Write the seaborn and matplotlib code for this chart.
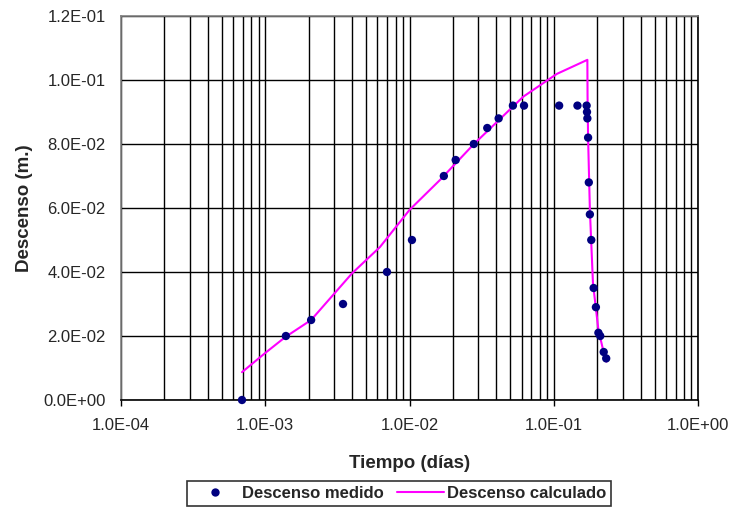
import numpy as np
import pandas as pd
import matplotlib
matplotlib.use("Agg")
import matplotlib.pyplot as plt
import matplotlib.ticker as mticker
from matplotlib.lines import Line2D
import seaborn as sns

# Descenso medido (puntos)
t_medido = [6.9e-4, 1.39e-3, 2.08e-3, 3.46e-3, 6.98e-3, 1.04e-2, 1.73e-2, 2.09e-2,
            2.79e-2, 3.46e-2, 4.15e-2, 5.21e-2, 6.22e-2, 0.109, 0.146, 0.169,
            0.170, 0.171, 0.173, 0.175, 0.178, 0.182, 0.189, 0.196, 0.204, 0.210,
            0.222, 0.231]
s_medido = [0.0, 0.020, 0.025, 0.030, 0.040, 0.050, 0.070, 0.075,
            0.080, 0.085, 0.088, 0.092, 0.092, 0.092, 0.092, 0.092,
            0.090, 0.088, 0.082, 0.068, 0.058, 0.050, 0.035, 0.029, 0.021, 0.020,
            0.015, 0.013]

# Descenso calculado (curva)
t_calc = [6.9e-4, 1.0e-3, 1.38e-3, 2.08e-3, 4.0e-3, 6.24e-3, 1.0e-2, 1.63e-2,
          2.77e-2, 6.15e-2, 0.105, 0.171, 0.1715, 0.173, 0.178, 0.187, 0.204,
          0.220, 0.232]
s_calc = [0.0087, 0.0147, 0.0197, 0.0250, 0.0396, 0.0478, 0.0594, 0.0688,
          0.0798, 0.0948, 0.1019, 0.1063, 0.0950, 0.0820, 0.0594, 0.0365, 0.0219,
          0.0156, 0.0120]

x_ticks = [1e-4, 1e-3, 1e-2, 1e-1, 1e0]
y_ticks = [0.0, 0.02, 0.04, 0.06, 0.08, 0.10, 0.12]

df_med = pd.DataFrame({"t": t_medido, "s": s_medido})
df_calc = pd.DataFrame({"t": t_calc, "s": s_calc})

sns.set_style("white")
plt.rcParams["font.family"] = ["Liberation Sans", "DejaVu Sans"]

fig = plt.figure(figsize=(7.34, 5.15), dpi=100)
ax = fig.add_axes([121 / 734, 115 / 515, 577 / 734, 384 / 515])

ax.set_xscale("log")
ax.set_xlim(1e-4, 1e0)
ax.set_ylim(0, 0.12)

# rejilla negra (mayor y menor)
ax.xaxis.set_major_locator(mticker.FixedLocator(x_ticks))
ax.xaxis.set_minor_locator(mticker.LogLocator(base=10, subs=np.arange(2, 10)))
ax.yaxis.set_major_locator(mticker.FixedLocator(y_ticks))
ax.grid(True, which="both", axis="x", color="black", lw=1.0)
ax.grid(True, which="major", axis="y", color="black", lw=1.0)
ax.set_axisbelow(True)

sns.lineplot(data=df_calc, x="t", y="s", ax=ax, color="#FF00FF", lw=1.5,
             sort=False, estimator=None, zorder=3)
sns.scatterplot(data=df_med, x="t", y="s", ax=ax, color="#000080", s=36,
                edgecolor="none", zorder=4, clip_on=False)

ax.xaxis.set_major_formatter(mticker.FuncFormatter(lambda v, p: "%.1E" % v))
ax.xaxis.set_minor_formatter(mticker.NullFormatter())
ax.yaxis.set_major_formatter(mticker.FuncFormatter(lambda v, p: "%.1E" % v))

ax.tick_params(axis="x", which="major", direction="out", length=4, width=1,
               color="black", pad=9, labelsize=12, bottom=True)
ax.tick_params(axis="x", which="minor", length=0)
ax.tick_params(axis="y", which="major", length=0, pad=11, labelsize=12)

for side in ["top", "left"]:
    ax.spines[side].set_color("#808080")
    ax.spines[side].set_linewidth(1.2)
for side in ["bottom", "right"]:
    ax.spines[side].set_color("black")
    ax.spines[side].set_linewidth(1.2)

ax.set_xlabel("Tiempo (días)", fontsize=13.5, fontweight="bold", labelpad=15.5)
ax.set_ylabel("Descenso (m.)", fontsize=13.5, fontweight="bold", labelpad=7.5)

handles = [
    Line2D([], [], ls="none", marker="o", markersize=6, color="#000080",
           markeredgecolor="none"),
    Line2D([], [], color="#FF00FF", lw=1.5),
]
leg = fig.legend(handles, ["Descenso medido", "Descenso calculado"],
                 loc="upper center", bbox_to_anchor=(399 / 734, 1 - 481 / 515),
                 ncol=2, frameon=True, fancybox=False, edgecolor="black",
                 handlelength=2.8, handletextpad=0.2, columnspacing=0.8,
                 borderpad=0.3, borderaxespad=0,
                 prop={"weight": "bold", "size": 12})
leg.get_frame().set_linewidth(1.2)

fig.savefig("out.png", dpi=100)
